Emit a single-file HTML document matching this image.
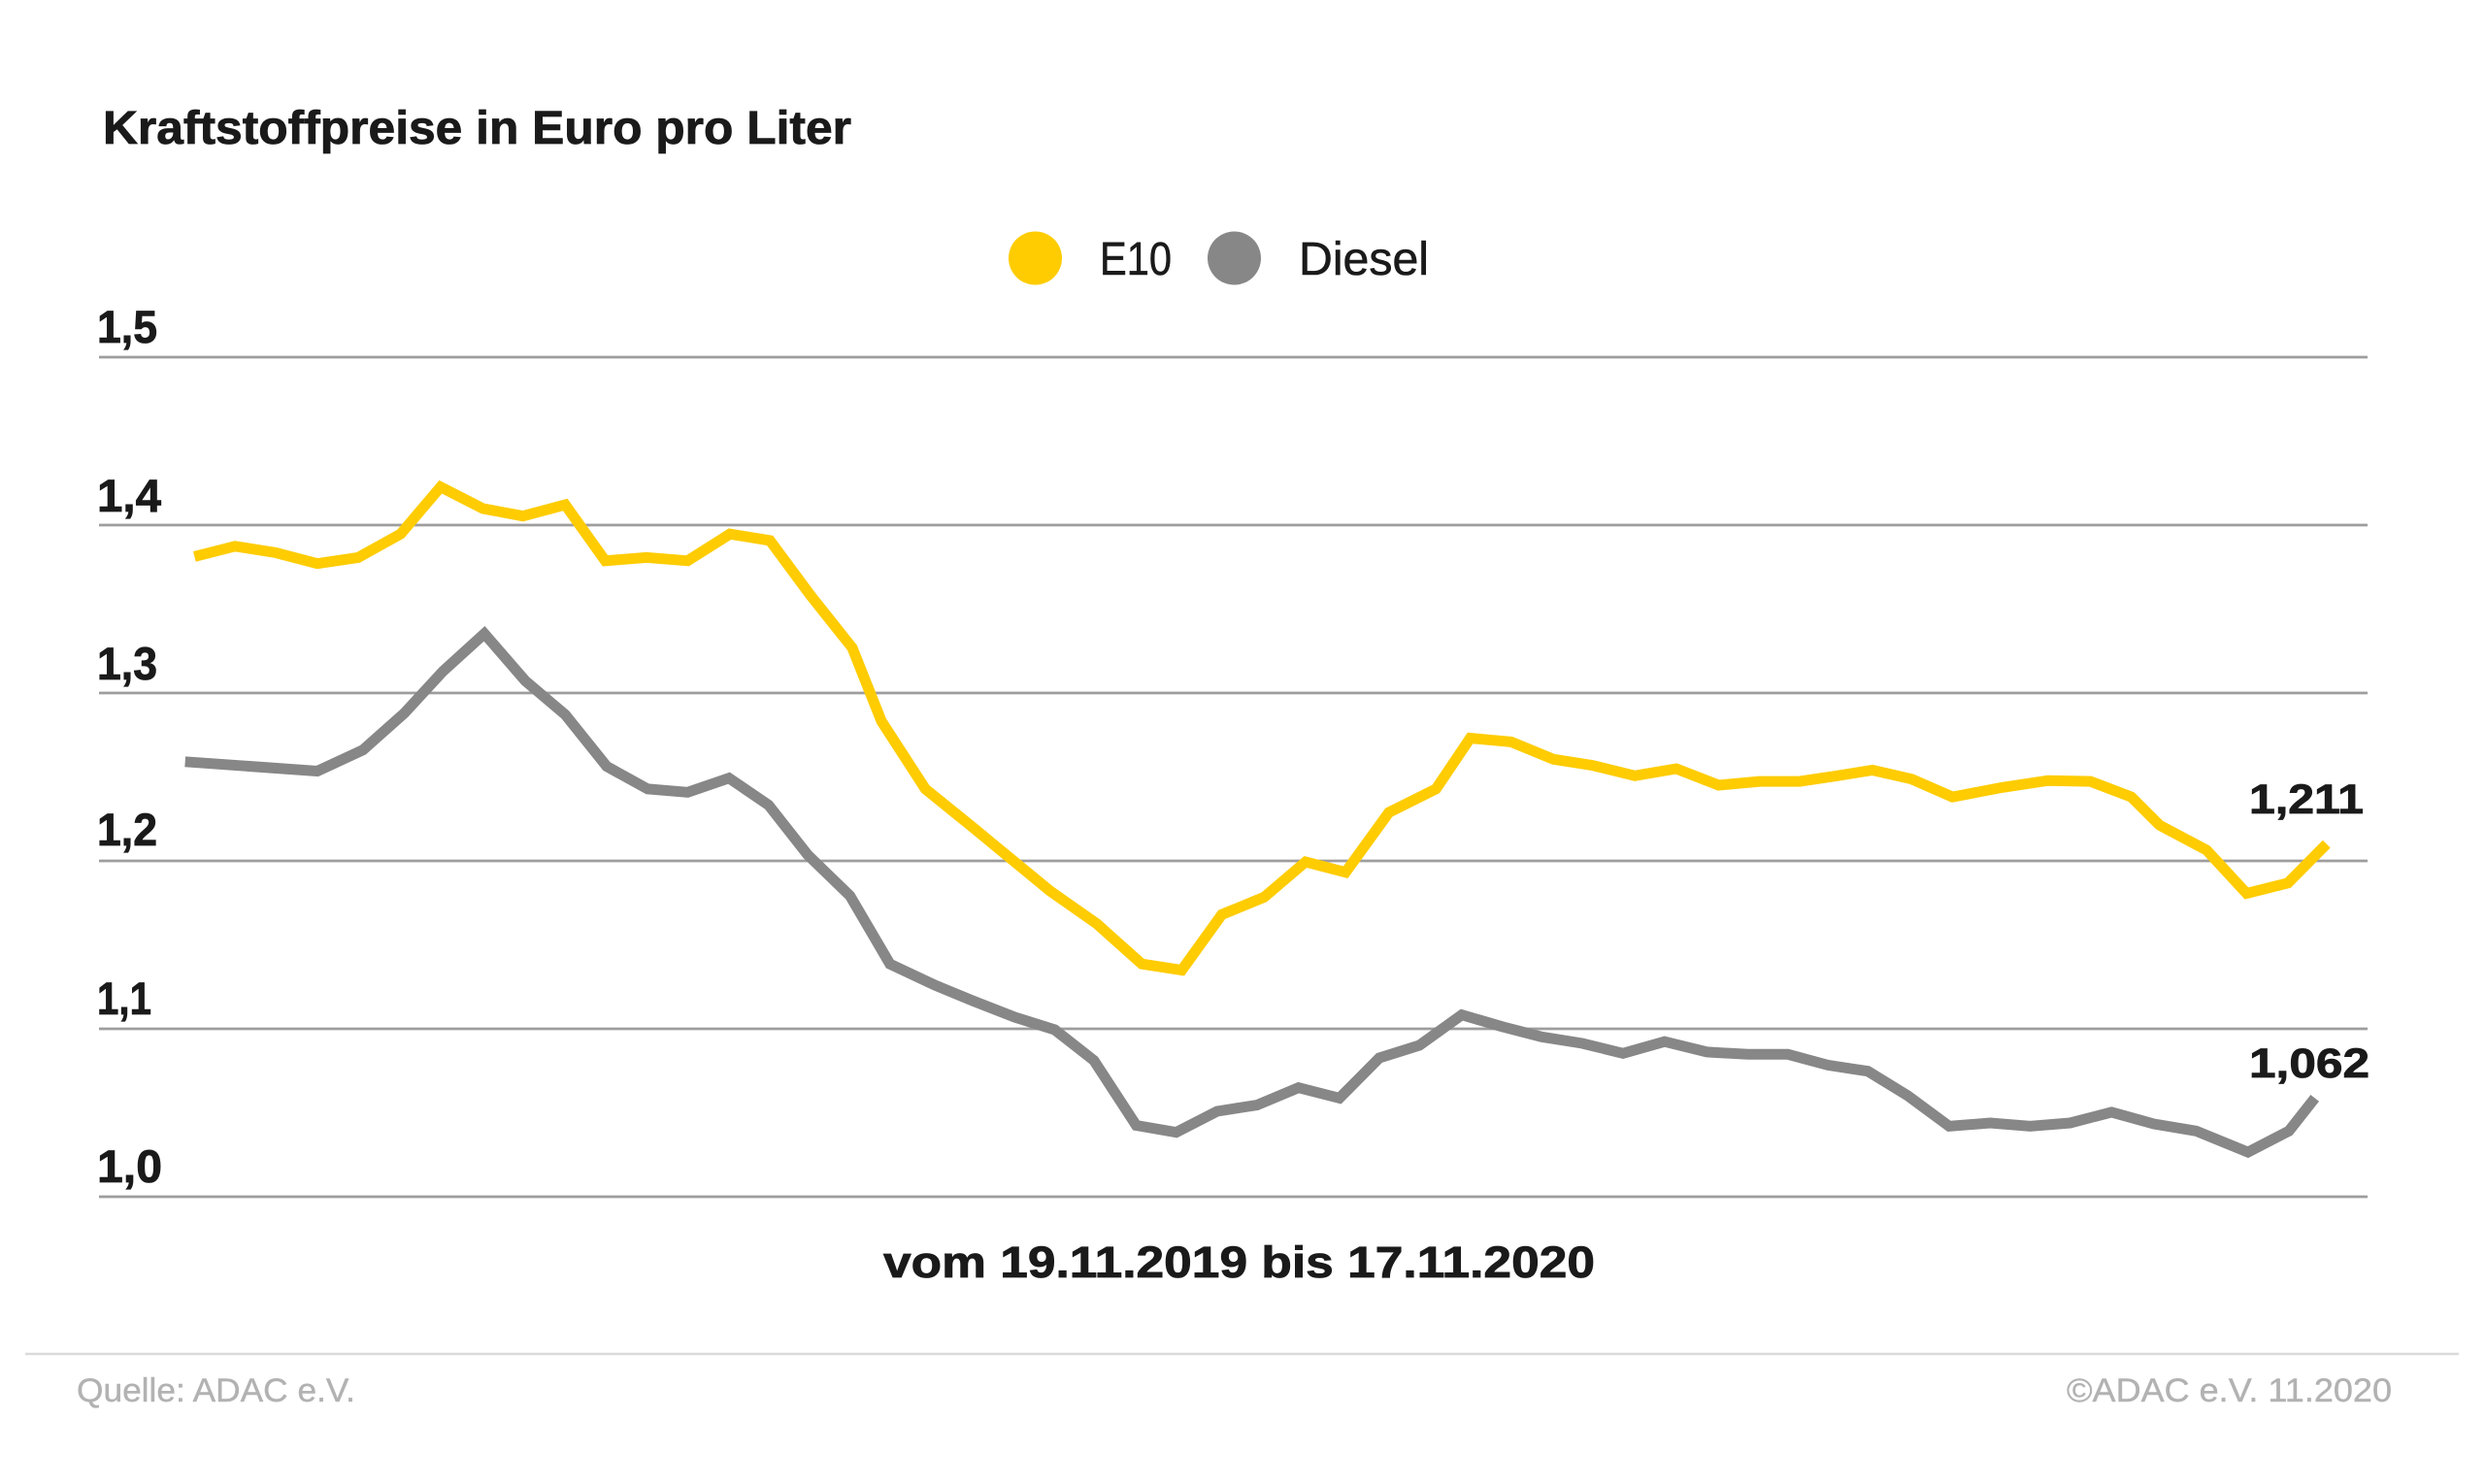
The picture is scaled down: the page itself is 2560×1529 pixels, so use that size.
<!DOCTYPE html>
<html>
<head>
<meta charset="utf-8">
<style>
  html, body { margin: 0; padding: 0; background: #ffffff; }
  svg { display: block; }
  text { font-family: "Liberation Sans", Arial, sans-serif; }
</style>
</head>
<body>
<svg width="2560" height="1529" viewBox="0 0 2560 1529" xmlns="http://www.w3.org/2000/svg">
  <rect x="0" y="0" width="2560" height="1529" fill="#ffffff"/>

  <!-- Title -->
  <text x="106" y="148" font-size="48" font-weight="bold" fill="#1a1a1a" stroke="#1a1a1a" stroke-width="0.8" textLength="771" lengthAdjust="spacingAndGlyphs">Kraftstoffpreise in Euro pro Liter</text>

  <!-- Legend -->
  <circle cx="1066.5" cy="266" r="27.5" fill="#fecc00"/>
  <text x="1133" y="283" font-size="48" fill="#1a1a1a" stroke="#1a1a1a" stroke-width="0.6" textLength="74" lengthAdjust="spacingAndGlyphs">E10</text>
  <circle cx="1271.5" cy="266" r="27.5" fill="#878787"/>
  <text x="1338" y="283" font-size="48" fill="#1a1a1a" stroke="#1a1a1a" stroke-width="0.6" textLength="134" lengthAdjust="spacingAndGlyphs">Diesel</text>

  <!-- Gridlines -->
  <g stroke="#9d9d9d" stroke-width="2.8">
    <line x1="102" y1="368" x2="2439" y2="368"/>
    <line x1="102" y1="541" x2="2439" y2="541"/>
    <line x1="102" y1="714" x2="2439" y2="714"/>
    <line x1="102" y1="887" x2="2439" y2="887"/>
    <line x1="102" y1="1060" x2="2439" y2="1060"/>
    <line x1="102" y1="1233" x2="2439" y2="1233"/>
  </g>

  <!-- Y labels -->
  <g font-size="47" font-weight="bold" fill="#1a1a1a" stroke="#1a1a1a" stroke-width="0.8">
    <text x="100" y="353" textLength="62" lengthAdjust="spacingAndGlyphs">1,5</text>
    <text x="100" y="527" textLength="66" lengthAdjust="spacingAndGlyphs">1,4</text>
    <text x="100" y="700" textLength="62" lengthAdjust="spacingAndGlyphs">1,3</text>
    <text x="100" y="871" textLength="62" lengthAdjust="spacingAndGlyphs">1,2</text>
    <text x="100" y="1045" textLength="56" lengthAdjust="spacingAndGlyphs">1,1</text>
    <text x="100" y="1218" textLength="67" lengthAdjust="spacingAndGlyphs">1,0</text>
  </g>

  <!-- Diesel series -->
  <polyline fill="none" stroke="#878787" stroke-width="11" stroke-linejoin="miter" stroke-miterlimit="4"
    points="190.7,784.8 326.9,794.5 373.9,772.7 416.5,734.8 456.3,691.7 499,652.9 541.1,701.4 582.3,736.3 625,789.6 667.2,812.9 708.4,816.3 751,801.7 791.7,829.4 832,880.7 875.6,922.9 916.8,993.2 963,1015 1001.8,1031 1045.4,1048 1086.6,1061 1126.9,1092.6 1170.5,1159.5 1211.7,1166.7 1253.9,1145 1295,1138.6 1337.7,1120.7 1379.9,1131.4 1421,1090 1462.3,1077 1505.9,1045.6 1547.1,1057.7 1588.3,1068.3 1630,1075 1672,1085.3 1714.8,1073.2 1758.4,1083.9 1800.6,1086.3 1841.8,1086.3 1883,1097.4 1924.2,1103.7 1965.4,1129 2008,1160.4 2050.2,1157 2091.4,1160.4 2132.6,1157 2175.3,1145.9 2218.9,1158 2262.5,1165.3 2315.8,1187.1 2358,1165.3 2384.7,1131.4"/>

  <!-- E10 series -->
  <polyline fill="none" stroke="#fecc00" stroke-width="11" stroke-linejoin="miter" stroke-miterlimit="4"
    points="200.4,573.4 242,562.8 284.2,569.5 326.9,580.7 369,574.4 412.7,550.2 453.9,501.7 497.5,524 538.7,531.7 582.3,520.1 623.5,577.8 666.2,574.4 708.4,577.8 752,550.2 793.2,557 834.4,612.7 878,667.5 908,743 953.3,812.9 999.4,850.2 1040.6,884.1 1081.8,918 1130.2,952 1176.3,993.2 1217.5,999.5 1258.7,942.3 1302.3,924.4 1345,888 1386.2,898.7 1430.8,837.1 1479.3,812.9 1514.6,760.5 1556.8,764.4 1600.4,782.3 1640.7,788.6 1684.2,799.3 1726.9,792 1770.5,809 1812.7,805.1 1853.9,805.1 1892.7,799.3 1929,793.5 1969.3,802.7 2011.4,821.1 2062.3,811.4 2109.8,804.2 2153.5,805.1 2195.6,821.1 2224.7,850.2 2273.2,875.9 2314.4,920.5 2357,909.8 2396.8,869.6"/>

  <!-- End value labels -->
  <text x="2317" y="838" font-size="43" font-weight="bold" fill="#1a1a1a" stroke="#1a1a1a" stroke-width="0.8" textLength="118" lengthAdjust="spacingAndGlyphs">1,211</text>
  <text x="2317" y="1110" font-size="43" font-weight="bold" fill="#1a1a1a" stroke="#1a1a1a" stroke-width="0.8" textLength="124" lengthAdjust="spacingAndGlyphs">1,062</text>

  <!-- Date range -->
  <text x="910" y="1316" font-size="45" font-weight="bold" fill="#1a1a1a" stroke="#1a1a1a" stroke-width="0.8" textLength="733" lengthAdjust="spacingAndGlyphs">vom 19.11.2019 bis 17.11.2020</text>

  <!-- Divider -->
  <line x1="26" y1="1395" x2="2533" y2="1395" stroke="#dadada" stroke-width="2.5"/>

  <!-- Footer -->
  <text x="79" y="1444" font-size="34" fill="#b2b2b2" stroke="#b2b2b2" stroke-width="0.4" textLength="287" lengthAdjust="spacingAndGlyphs">Quelle: ADAC e.V.</text>
  <text x="2129" y="1444" font-size="34" fill="#b2b2b2" stroke="#b2b2b2" stroke-width="0.4" textLength="335" lengthAdjust="spacingAndGlyphs">©ADAC e.V. 11.2020</text>
</svg>
</body>
</html>
